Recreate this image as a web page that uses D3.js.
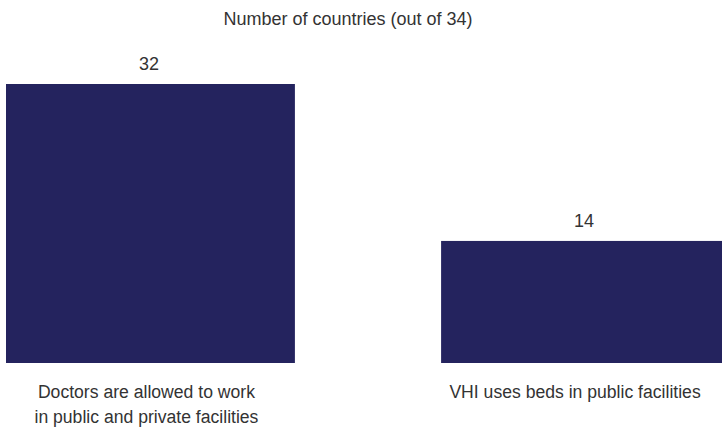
<!DOCTYPE html>
<html>
<head>
<meta charset="utf-8">
<script src="https://cdn.jsdelivr.net/npm/d3@7"></script>
<style>
  html, body { margin: 0; padding: 0; background: #fff; overflow: hidden; }
  svg { display: block; }
  text { font-family: "Liberation Sans", Arial, sans-serif; fill: #333; }
</style>
</head>
<body>
<svg id="chart" width="722" height="427"></svg>
<script>
// Chart data
const categories = [
  ["Doctors are allowed to work", "in public and private facilities"],
  ["VHI uses beds in public facilities"]
];
const values = [32, 14];
const title = "Number of countries (out of 34)";

const W = 722, H = 427;
const svg = d3.select("#chart");

const x = d3.scaleBand()
  .domain(d3.range(values.length))
  .range([6, 730])
  .paddingInner(0.336)
  .paddingOuter(0);

const y = d3.scaleLinear()
  .domain([0, 32])
  .range([363, 84]);

svg.append("text")
  .attr("x", 348)
  .attr("y", 25)
  .attr("text-anchor", "middle")
  .style("font-size", "18px")
  .text(title);

svg.append("g").selectAll("rect")
  .data(values)
  .join("rect")
  .attr("x", (d, i) => x(i))
  .attr("y", d => y(d))
  .attr("width", x.bandwidth())
  .attr("height", d => y(0) - y(d))
  .attr("fill", "#24235e");

const mid = i => x(i) + x.bandwidth() / 2;

// value labels above bars
svg.append("g").selectAll("text")
  .data(values)
  .join("text")
  .attr("x", (d, i) => mid(i) - 1.5)
  .attr("y", d => y(d) - 14)
  .attr("text-anchor", "middle")
  .style("font-size", "18px")
  .text(d => d);

// category labels below bars
const labelShift = [-4, -10.5];
const labels = svg.append("g").selectAll("text")
  .data(categories)
  .join("text")
  .attr("x", (d, i) => mid(i) + labelShift[i])
  .attr("y", 398)
  .attr("text-anchor", "middle")
  .style("font-size", "17.6px");

labels.selectAll("tspan")
  .data(d => d)
  .join("tspan")
  .attr("x", function() { return d3.select(this.parentNode).attr("x"); })
  .attr("dy", (d, j) => j === 0 ? 0 : 25)
  .text(d => d);
</script>
</body>
</html>
